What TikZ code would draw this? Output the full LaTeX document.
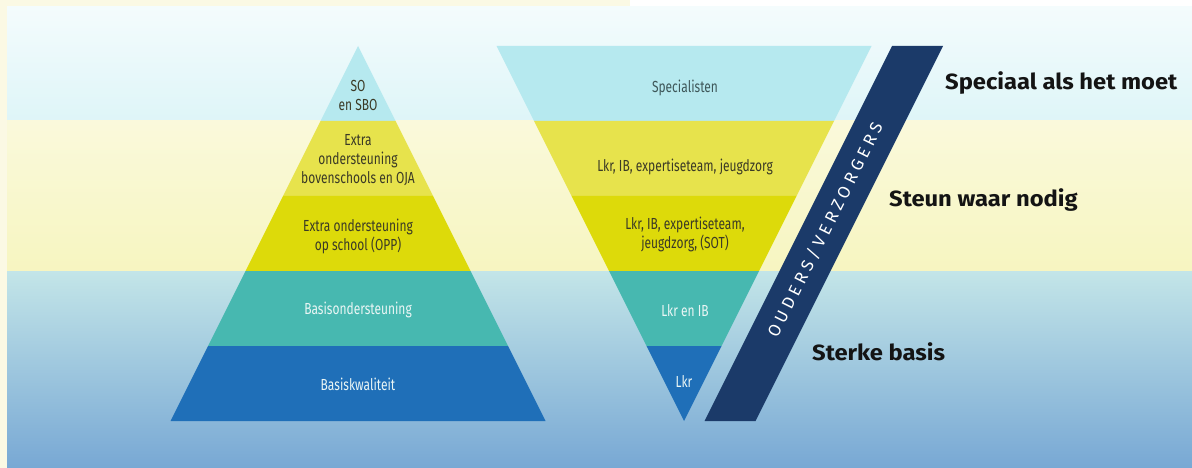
\documentclass[tikz,border=0pt]{standalone}
\usepackage{fontspec}
\usepackage{xcolor}
\usepackage{tikz}
\setmainfont{Fira Sans}
\newfontfamily\condfont{Fira Sans}[FakeStretch=0.75]
\newfontfamily\bandfont{Fira Sans}[LetterSpace=25]
\newfontfamily\headfont{Fira Sans}[FakeStretch=1.08]
\definecolor{cream}{HTML}{FBF9E4}
\definecolor{tipcyan}{HTML}{B6E9EF}
\definecolor{layeryellow}{HTML}{E7E34C}
\definecolor{strongyellow}{HTML}{DDDA0A}
\definecolor{layerteal}{HTML}{47B8B0}
\definecolor{layerblue}{HTML}{1F6FB8}
\definecolor{bandnavy}{HTML}{1B3A69}
\definecolor{darktext}{HTML}{3B3A26}
\definecolor{slatetext}{HTML}{3E5759}
\definecolor{lighttext}{HTML}{EAF6F5}
\tikzset{
  layer/.style={font=\condfont\fontsize{16}{19}\selectfont, align=center, text=darktext, inner sep=0pt},
  layerlight/.style={layer, text=lighttext},
  heading/.style={font=\headfont\bfseries\fontsize{22}{26}\selectfont, text=black!92, anchor=base west, inner sep=0pt},
}

\begin{document}
\begin{tikzpicture}[x=1pt, y=-1pt]
  \useasboundingbox (0,0) rectangle (1192,468);
  \fill[cream] (0,0) rectangle (1192,468);
  \fill[white] (630,0) rectangle (1192,7);
  \shade[top color=white!85!tipcyan, bottom color=white!55!tipcyan] (7,7) rectangle (1192,121);
  \shade[top color=white!80!layeryellow, bottom color=white!65!layeryellow] (7,121) rectangle (1192,271);
  \shade[top color={rgb,255:red,195;green,229;blue,232}, bottom color={rgb,255:red,120;green,168;blue,212}] (7,271) rectangle (1192,468);

  \fill[tipcyan] (358,46) -- (395.5,121) -- (320.5,121) -- cycle;
  \fill[layeryellow] (320.5,121) -- (395.5,121) -- (433,196) -- (283,196) -- cycle;
  \fill[strongyellow] (283,196) -- (433,196) -- (470.5,271) -- (245.5,271) -- cycle;
  \fill[layerteal] (245.5,271) -- (470.5,271) -- (508,346) -- (208,346) -- cycle;
  \fill[layerblue] (208,346) -- (508,346) -- (545.5,421) -- (170.5,421) -- cycle;

  \fill[tipcyan] (496.5,46) -- (871.5,46) -- (834,121) -- (534,121) -- cycle;
  \fill[layeryellow] (534,121) -- (834,121) -- (796.5,196) -- (571.5,196) -- cycle;
  \fill[strongyellow] (571.5,196) -- (796.5,196) -- (759,271) -- (609,271) -- cycle;
  \fill[layerteal] (609,271) -- (759,271) -- (721.5,346) -- (646.5,346) -- cycle;
  \fill[layerblue] (646.5,346) -- (721.5,346) -- (684,421) -- cycle;

  \fill[bandnavy] (892,46) -- (943,46) -- (755.5,421) -- (704.5,421) -- cycle;

  \node[layer] (so) at (358,95) {SO\\en SBO};
  \node[layer] (bovenschools) at (358,160) {Extra\\ondersteuning\\bovenschools en OJA};
  \node[layer] (opschool) at (358,236) {Extra ondersteuning\\op school (OPP)};
  \node[layerlight] (basisondersteuning) at (358,310) {Basisondersteuning};
  \node[layerlight] (basiskwaliteit) at (358,384) {Basiskwaliteit};

  \node[layer, text=slatetext] (specialisten) at (685,88) {Specialisten};
  \node[layer] (jeugdzorg) at (685,167) {Lkr, IB, expertiseteam, jeugdzorg};
  \node[layer] (sot) at (685,234) {Lkr, IB, expertiseteam,\\jeugdzorg, (SOT)};
  \node[layerlight] (lkrib) at (685,311) {Lkr en IB};
  \node[layerlight] (lkr) at (684,381) {Lkr};

  \node[font=\bandfont\fontsize{17}{20}\selectfont, text=white, rotate=63.5] (ouders) at (825,230) {OUDERS/VERZORGERS};

  \node[heading] (speciaal) at (945,90) {Speciaal als het moet};
  \node[heading] (steun) at (889,207) {Steun waar nodig};
  \node[heading] (sterk) at (812,360) {Sterke basis};
\end{tikzpicture}
\end{document}
